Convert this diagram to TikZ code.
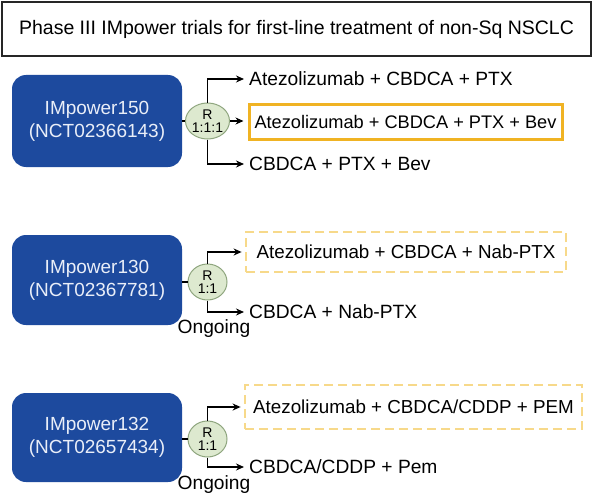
\documentclass[tikz,border=0pt]{standalone}
\usepackage{fontspec}
\setmainfont{Liberation Sans}
\usetikzlibrary{arrows.meta,shapes.geometric}
\definecolor{trialblue}{HTML}{1D4A9E}
\definecolor{trialtext}{HTML}{E9EEF8}
\definecolor{rfill}{HTML}{DDE9CF}
\definecolor{rdraw}{HTML}{8FA67F}
\definecolor{gold}{HTML}{F0B323}
\definecolor{paleyellow}{HTML}{F7D98A}
\begin{document}
\begin{tikzpicture}[x=1pt,y=-1pt,
  titlebox/.style={draw=black!85,line width=1.3pt,minimum width=589pt,minimum height=54pt,inner sep=0pt,font=\fontsize{19.5}{22}\selectfont},
  trial/.style={fill=trialblue,rounded corners=14pt,minimum width=170pt,minimum height=92pt,text=trialtext,align=center,font=\fontsize{19}{23}\selectfont,inner sep=0pt},
  rnode/.style={ellipse,fill=rfill,draw=rdraw,line width=1pt,minimum width=39pt,minimum height=36pt,inner sep=0pt,align=center,font=\fontsize{14}{13}\selectfont},
  arm/.style={anchor=west,inner xsep=5pt,inner ysep=0pt,font=\fontsize{19.2}{22}\selectfont},
  goldbox/.style={draw=gold,line width=3pt,inner sep=0pt,font=\fontsize{18.2}{22}\selectfont},
  dashbox/.style={draw=paleyellow,line width=2.8pt,dash pattern=on 9pt off 5pt,inner sep=0pt,font=\fontsize{18.8}{22}\selectfont},
  conn/.style={line width=1.9pt,black},
  arr/.style={conn,-{Stealth[length=8pt,width=7pt]}},
  note/.style={font=\fontsize{19.2}{22}\selectfont,inner sep=0pt}
]
\useasboundingbox (0,0) rectangle (593,500);
\node[titlebox] (title) at (296.5,29) {Phase III IMpower trials for first-line treatment of non-Sq NSCLC};

% Row 1
\node[trial] (b1) at (97,121) {IMpower150\\(NCT02366143)};
\node[rnode] (r1) at (207.5,121) {R\\1:1:1};
\node[arm] (a1) at (244,79) {Atezolizumab + CBDCA + PTX};
\node[goldbox,minimum width=313pt,minimum height=35pt] (g1) at (405.5,122) {Atezolizumab + CBDCA + PTX + Bev};
\node[arm] (c1) at (244,164) {CBDCA + PTX + Bev};
\draw[conn] (b1.east) -- (r1.west);
\draw[arr] (r1.north) |- (a1.west);
\draw[arr,shorten >=4pt] (r1.east) -- (r1.east -| g1.west);
\draw[arr] (r1.south) |- (c1.west);

% Row 2
\node[trial,minimum height=90pt] (b2) at (97,280) {IMpower130\\(NCT02367781)};
\node[rnode] (r2) at (207.5,282) {R\\1:1};
\node[dashbox,minimum width=320pt,minimum height=40pt] (d2) at (406,252) {Atezolizumab + CBDCA + Nab-PTX};
\node[arm] (c2) at (244,312) {CBDCA + Nab-PTX};
\node[note] (o2) at (214,329) {Ongoing};
\draw[conn] (b2.east |- r2.west) -- (r2.west);
\draw[arr,shorten >=3pt] (r2.north) |- (d2.west);
\draw[arr] (r2.south) |- (c2.west);

% Row 3
\node[trial,minimum height=89pt] (b3) at (97,437.5) {IMpower132\\(NCT02657434)};
\node[rnode] (r3) at (207.5,439) {R\\1:1};
\node[dashbox,minimum width=337pt,minimum height=44pt] (d3) at (413.5,407) {Atezolizumab + CBDCA/CDDP + PEM};
\node[arm] (c3) at (244,467) {CBDCA/CDDP + Pem};
\node[note] (o3) at (214,485) {Ongoing};
\draw[conn] (b3.east |- r3.west) -- (r3.west);
\draw[arr,shorten >=3pt] (r3.north) |- (d3.west);
\draw[arr] (r3.south) |- (c3.west);
\end{tikzpicture}
\end{document}
